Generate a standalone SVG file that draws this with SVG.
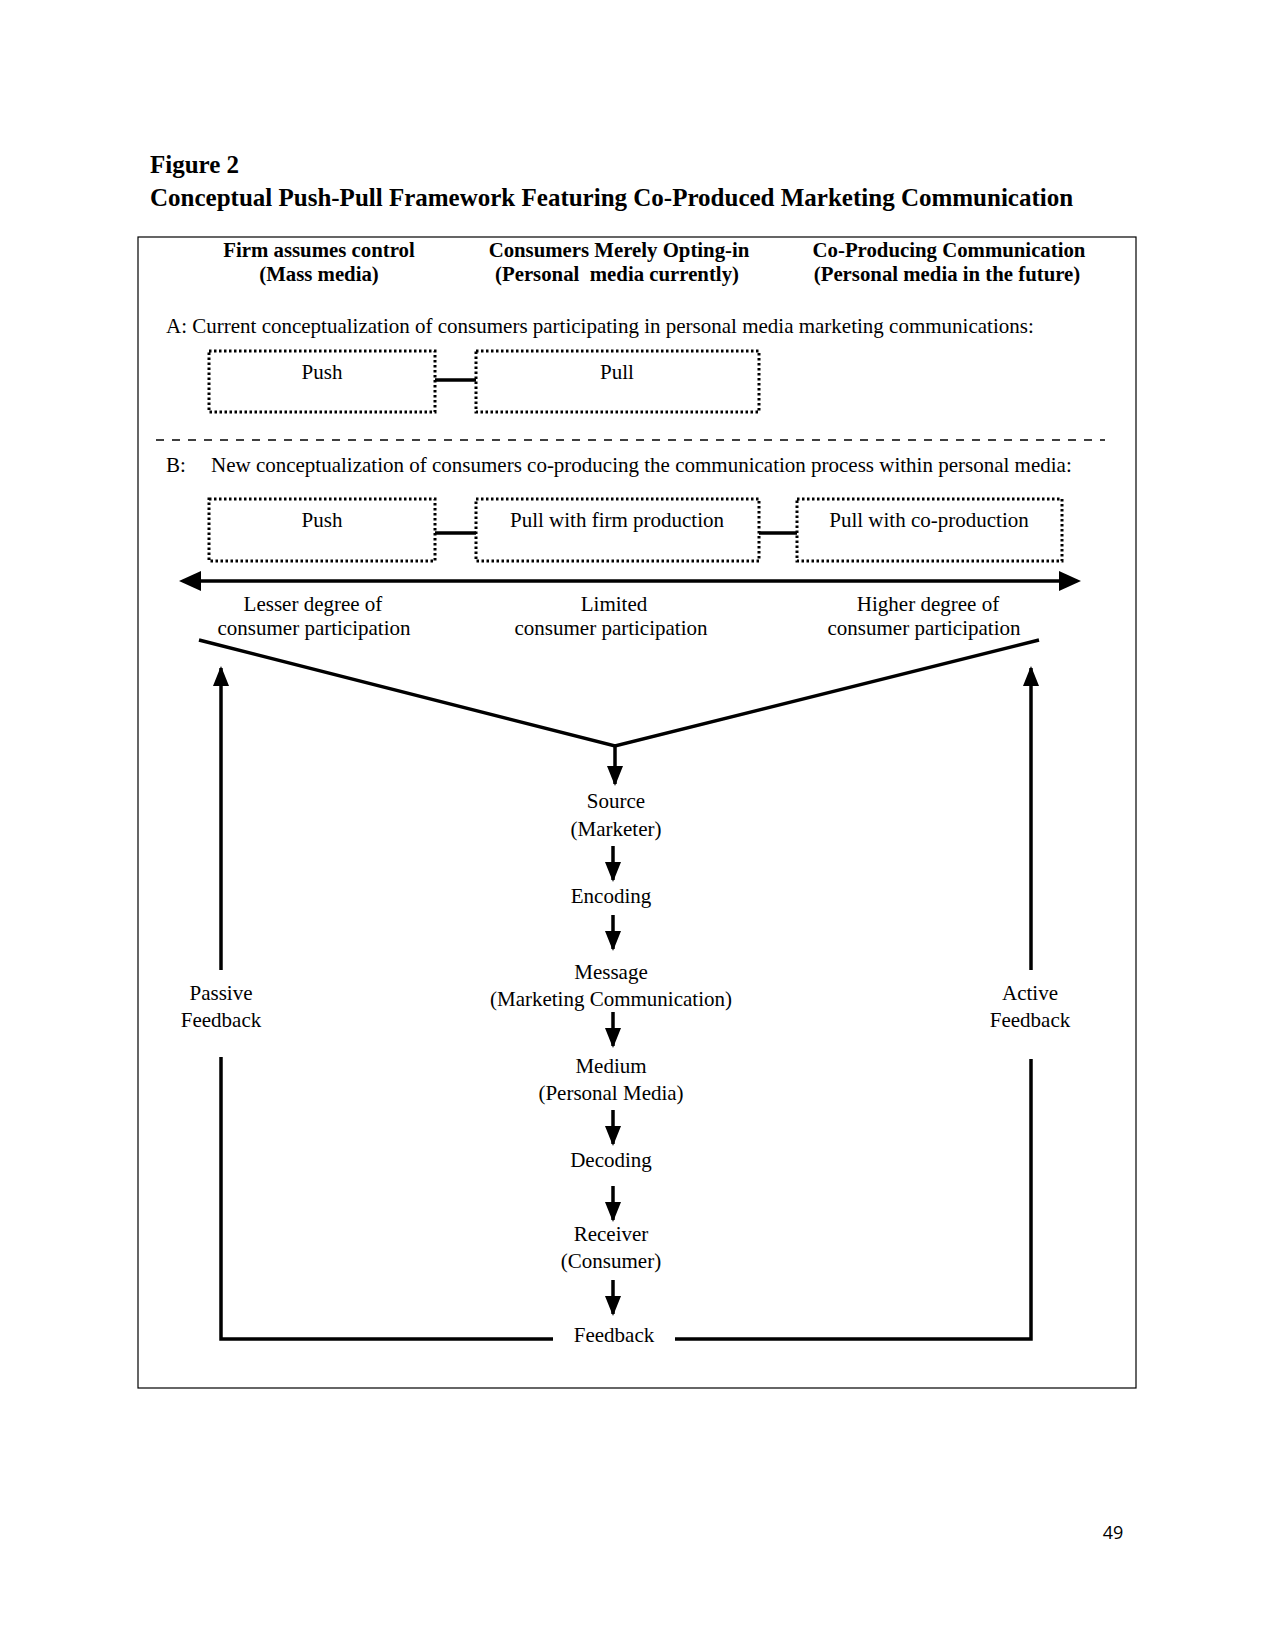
<svg xmlns="http://www.w3.org/2000/svg" width="1275" height="1650" viewBox="0 0 1275 1650">
<defs>
<style>
.t{font-family:"Liberation Serif","Times New Roman",serif;font-size:21px;fill:#000}
.c{text-anchor:middle}
.h{font-family:"Liberation Serif","Times New Roman",serif;font-size:20.8px;font-weight:bold;text-anchor:middle;fill:#000}
.ti{font-family:"Liberation Serif","Times New Roman",serif;font-size:25px;font-weight:bold;fill:#000}
.box{fill:none;stroke:#000;stroke-width:3;stroke-dasharray:2.5 2.5}
.ln{fill:none;stroke:#000;stroke-width:3.5}
</style>
<marker id="ah3" viewBox="0 0 10 10" refX="9" refY="5" markerWidth="20" markerHeight="20" markerUnits="userSpaceOnUse" orient="auto">
<path d="M0,1 L10,5 L0,9 Z" fill="#000"/>
</marker>
</defs>
<rect width="1275" height="1650" fill="#fff"/>
<text class="ti" x="150" y="173">Figure 2</text>
<text class="ti" x="150" y="206">Conceptual Push-Pull Framework Featuring Co-Produced Marketing Communication</text>
<rect x="138" y="237" width="998" height="1151" fill="none" stroke="#000" stroke-width="1.2"/>
<g id="headers">
<text class="h" x="319" y="257">Firm assumes control</text>
<text class="h" x="319" y="281">(Mass media)</text>
<text class="h" x="619" y="257">Consumers Merely Opting-in</text>
<text class="h" x="617" y="281" xml:space="preserve">(Personal  media currently)</text>
<text class="h" x="949" y="257">Co-Producing Communication</text>
<text class="h" x="947" y="281">(Personal media in the future)</text>
</g>
<text class="t" x="166" y="333">A: Current conceptualization of consumers participating in personal media marketing communications:</text>
<g id="a-push"><rect class="box" x="209" y="351" width="226" height="61"/><text class="t c" x="322" y="379">Push</text></g>
<g id="a-pull"><rect class="box" x="476" y="351" width="283" height="61"/><text class="t c" x="617" y="379">Pull</text></g>
<line x1="156" y1="440" x2="1105" y2="440" stroke="#000" stroke-width="1.5" stroke-dasharray="8 8"/>
<text class="t" x="166" y="472">B:</text>
<text class="t" x="211" y="472">New conceptualization of consumers co-producing the communication process within personal media:</text>
<g id="b-push"><rect class="box" x="209" y="499" width="226" height="62"/><text class="t c" x="322" y="527">Push</text></g>
<g id="b-pull-firm"><rect class="box" x="476" y="499" width="283" height="62"/><text class="t c" x="617" y="527">Pull with firm production</text></g>
<g id="b-pull-co"><rect class="box" x="797" y="499" width="265" height="62"/><text class="t c" x="929" y="527">Pull with co-production</text></g>
<g id="scale-labels">
<text class="t c" x="313" y="611">Lesser degree of</text>
<text class="t c" x="314" y="635">consumer participation</text>
<text class="t c" x="614" y="611">Limited</text>
<text class="t c" x="611" y="635">consumer participation</text>
<text class="t c" x="928" y="611">Higher degree of</text>
<text class="t c" x="924" y="635">consumer participation</text>
</g>
<g id="source"><text class="t c" x="616" y="808">Source</text><text class="t c" x="616" y="836">(Marketer)</text></g>
<g id="encoding"><text class="t c" x="611" y="903">Encoding</text></g>
<g id="message"><text class="t c" x="611" y="979">Message</text><text class="t c" x="611" y="1006">(Marketing Communication)</text></g>
<g id="medium"><text class="t c" x="611" y="1073">Medium</text><text class="t c" x="611" y="1100">(Personal Media)</text></g>
<g id="decoding"><text class="t c" x="611" y="1167">Decoding</text></g>
<g id="receiver"><text class="t c" x="611" y="1241">Receiver</text><text class="t c" x="611" y="1268">(Consumer)</text></g>
<g id="feedback"><text class="t c" x="614" y="1342">Feedback</text></g>
<g id="passive"><text class="t c" x="221" y="1000">Passive</text><text class="t c" x="221" y="1027">Feedback</text></g>
<g id="active"><text class="t c" x="1030" y="1000">Active</text><text class="t c" x="1030" y="1027">Feedback</text></g>
<g id="connectors">
<line class="ln" x1="435" y1="380" x2="476" y2="380"/>
<line class="ln" x1="435" y1="533" x2="476" y2="533"/>
<line class="ln" x1="759" y1="533" x2="797" y2="533"/>
<line x1="200" y1="581" x2="1060" y2="581" stroke="#000" stroke-width="3.5"/>
<path d="M179,581 L201,571 L201,591 Z" fill="#000"/>
<path d="M1081,581 L1059,571 L1059,591 Z" fill="#000"/>
<polyline class="ln" points="199,640 615,746 1039,640"/>
<line class="ln" x1="615" y1="746" x2="615" y2="784" marker-end="url(#ah3)"/>
<line class="ln" x1="613" y1="846" x2="613" y2="880" marker-end="url(#ah3)"/>
<line class="ln" x1="613" y1="915" x2="613" y2="949" marker-end="url(#ah3)"/>
<line class="ln" x1="613" y1="1012" x2="613" y2="1046" marker-end="url(#ah3)"/>
<line class="ln" x1="613" y1="1110" x2="613" y2="1144" marker-end="url(#ah3)"/>
<line class="ln" x1="613" y1="1186" x2="613" y2="1220" marker-end="url(#ah3)"/>
<line class="ln" x1="613" y1="1280" x2="613" y2="1314" marker-end="url(#ah3)"/>
<line class="ln" x1="221" y1="970" x2="221" y2="668" marker-end="url(#ah3)"/>
<line class="ln" x1="1031" y1="970" x2="1031" y2="668" marker-end="url(#ah3)"/>
<polyline class="ln" points="221,1057 221,1339 553,1339"/>
<polyline class="ln" points="675,1339 1031,1339 1031,1059"/>
</g>
<text x="1113" y="1539" text-anchor="middle" font-family="'Open Sans','Liberation Sans',sans-serif" font-size="18" fill="#000">49</text>
</svg>
